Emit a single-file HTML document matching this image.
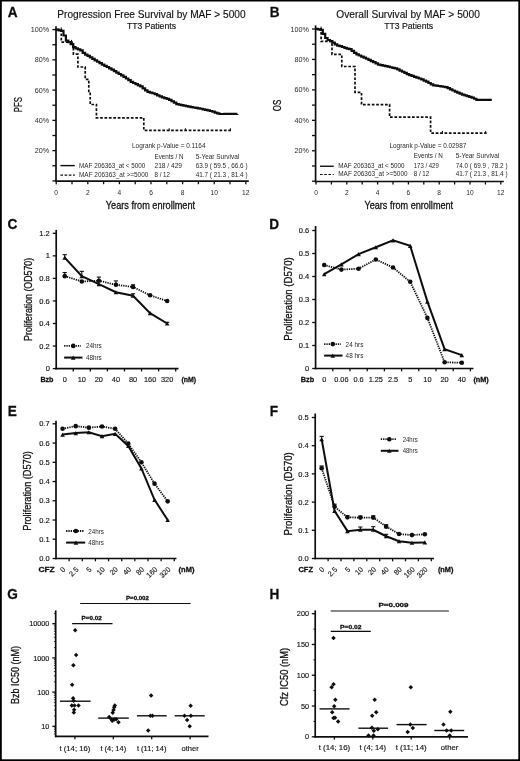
<!DOCTYPE html>
<html><head><meta charset="utf-8"><title>Figure</title>
<style>
html,body{margin:0;padding:0;background:#fff;}
body{width:520px;height:761px;overflow:hidden;}
svg{display:block;}
text{font-family:"Liberation Sans", sans-serif;fill:#111;stroke:#111;stroke-width:0.28px;}
text.s{stroke:none;fill:#2a2a2a;}
text.m{stroke-width:0.14px;}
</style></head>
<body>
<svg width="520" height="761" viewBox="0 0 520 761">
<defs><filter id="b" x="-0.05" y="-0.05" width="1.1" height="1.1"><feGaussianBlur stdDeviation="0.35"/></filter></defs>
<rect x="0" y="0" width="520" height="761" fill="#fff"/>
<g filter="url(#b)">
<text x="7.70" y="17.00" font-size="14.3" font-weight="bold" textLength="9.82" lengthAdjust="spacingAndGlyphs" style="stroke-width:0.3px">A</text>
<text x="269.70" y="17.00" font-size="14.3" font-weight="bold" textLength="9.82" lengthAdjust="spacingAndGlyphs" style="stroke-width:0.3px">B</text>
<text x="7.50" y="228.80" font-size="14.3" font-weight="bold" textLength="9.82" lengthAdjust="spacingAndGlyphs" style="stroke-width:0.3px">C</text>
<text x="269.30" y="228.70" font-size="14.3" font-weight="bold" textLength="9.82" lengthAdjust="spacingAndGlyphs" style="stroke-width:0.3px">D</text>
<text x="7.70" y="415.60" font-size="14.3" font-weight="bold" textLength="9.07" lengthAdjust="spacingAndGlyphs" style="stroke-width:0.3px">E</text>
<text x="269.70" y="415.60" font-size="14.3" font-weight="bold" textLength="8.31" lengthAdjust="spacingAndGlyphs" style="stroke-width:0.3px">F</text>
<text x="7.30" y="598.80" font-size="14.3" font-weight="bold" textLength="10.58" lengthAdjust="spacingAndGlyphs" style="stroke-width:0.3px">G</text>
<text x="269.50" y="598.80" font-size="14.3" font-weight="bold" textLength="9.82" lengthAdjust="spacingAndGlyphs" style="stroke-width:0.3px">H</text>
<text x="57.30" y="17.70" font-size="10.2" textLength="188.30" lengthAdjust="spacingAndGlyphs" class="m">Progression Free Survival by MAF &gt; 5000</text>
<text x="126.90" y="28.70" font-size="8.8" textLength="49.10" lengthAdjust="spacingAndGlyphs" class="m">TT3 Patients</text>
<line x1="56.00" y1="26.30" x2="56.00" y2="182.00" stroke="#111" stroke-width="1.7" stroke-linecap="butt"/>
<line x1="55.20" y1="181.20" x2="248.80" y2="181.20" stroke="#111" stroke-width="1.7" stroke-linecap="butt"/>
<line x1="52.40" y1="29.60" x2="56.00" y2="29.60" stroke="#111" stroke-width="1.3" stroke-linecap="butt"/>
<text x="49.20" y="32.20" font-size="7.5" text-anchor="end" textLength="18.41" lengthAdjust="spacingAndGlyphs" class="s">100%</text>
<line x1="52.40" y1="44.73" x2="56.00" y2="44.73" stroke="#111" stroke-width="1.3" stroke-linecap="butt"/>
<line x1="52.40" y1="59.86" x2="56.00" y2="59.86" stroke="#111" stroke-width="1.3" stroke-linecap="butt"/>
<text x="49.20" y="62.46" font-size="7.5" text-anchor="end" textLength="14.41" lengthAdjust="spacingAndGlyphs" class="s">80%</text>
<line x1="52.40" y1="74.99" x2="56.00" y2="74.99" stroke="#111" stroke-width="1.3" stroke-linecap="butt"/>
<line x1="52.40" y1="90.12" x2="56.00" y2="90.12" stroke="#111" stroke-width="1.3" stroke-linecap="butt"/>
<text x="49.20" y="92.72" font-size="7.5" text-anchor="end" textLength="14.41" lengthAdjust="spacingAndGlyphs" class="s">60%</text>
<line x1="52.40" y1="105.25" x2="56.00" y2="105.25" stroke="#111" stroke-width="1.3" stroke-linecap="butt"/>
<line x1="52.40" y1="120.38" x2="56.00" y2="120.38" stroke="#111" stroke-width="1.3" stroke-linecap="butt"/>
<text x="49.20" y="122.98" font-size="7.5" text-anchor="end" textLength="14.41" lengthAdjust="spacingAndGlyphs" class="s">40%</text>
<line x1="52.40" y1="135.51" x2="56.00" y2="135.51" stroke="#111" stroke-width="1.3" stroke-linecap="butt"/>
<line x1="52.40" y1="150.64" x2="56.00" y2="150.64" stroke="#111" stroke-width="1.3" stroke-linecap="butt"/>
<text x="49.20" y="153.24" font-size="7.5" text-anchor="end" textLength="14.41" lengthAdjust="spacingAndGlyphs" class="s">20%</text>
<line x1="52.40" y1="165.77" x2="56.00" y2="165.77" stroke="#111" stroke-width="1.3" stroke-linecap="butt"/>
<line x1="52.40" y1="180.90" x2="56.00" y2="180.90" stroke="#111" stroke-width="1.3" stroke-linecap="butt"/>
<line x1="56.20" y1="181.20" x2="56.20" y2="184.20" stroke="#111" stroke-width="1.3" stroke-linecap="butt"/>
<text x="56.20" y="194.60" font-size="7.7" text-anchor="middle" textLength="3.68" lengthAdjust="spacingAndGlyphs" class="s">0</text>
<line x1="72.00" y1="181.20" x2="72.00" y2="184.20" stroke="#111" stroke-width="1.3" stroke-linecap="butt"/>
<line x1="87.80" y1="181.20" x2="87.80" y2="184.20" stroke="#111" stroke-width="1.3" stroke-linecap="butt"/>
<text x="87.80" y="194.60" font-size="7.7" text-anchor="middle" textLength="3.68" lengthAdjust="spacingAndGlyphs" class="s">2</text>
<line x1="103.60" y1="181.20" x2="103.60" y2="184.20" stroke="#111" stroke-width="1.3" stroke-linecap="butt"/>
<line x1="119.40" y1="181.20" x2="119.40" y2="184.20" stroke="#111" stroke-width="1.3" stroke-linecap="butt"/>
<text x="119.40" y="194.60" font-size="7.7" text-anchor="middle" textLength="3.68" lengthAdjust="spacingAndGlyphs" class="s">4</text>
<line x1="135.20" y1="181.20" x2="135.20" y2="184.20" stroke="#111" stroke-width="1.3" stroke-linecap="butt"/>
<line x1="151.00" y1="181.20" x2="151.00" y2="184.20" stroke="#111" stroke-width="1.3" stroke-linecap="butt"/>
<text x="151.00" y="194.60" font-size="7.7" text-anchor="middle" textLength="3.68" lengthAdjust="spacingAndGlyphs" class="s">6</text>
<line x1="166.80" y1="181.20" x2="166.80" y2="184.20" stroke="#111" stroke-width="1.3" stroke-linecap="butt"/>
<line x1="182.60" y1="181.20" x2="182.60" y2="184.20" stroke="#111" stroke-width="1.3" stroke-linecap="butt"/>
<text x="182.60" y="194.60" font-size="7.7" text-anchor="middle" textLength="3.68" lengthAdjust="spacingAndGlyphs" class="s">8</text>
<line x1="198.40" y1="181.20" x2="198.40" y2="184.20" stroke="#111" stroke-width="1.3" stroke-linecap="butt"/>
<line x1="214.20" y1="181.20" x2="214.20" y2="184.20" stroke="#111" stroke-width="1.3" stroke-linecap="butt"/>
<text x="214.20" y="194.60" font-size="7.7" text-anchor="middle" textLength="7.37" lengthAdjust="spacingAndGlyphs" class="s">10</text>
<line x1="230.00" y1="181.20" x2="230.00" y2="184.20" stroke="#111" stroke-width="1.3" stroke-linecap="butt"/>
<line x1="245.80" y1="181.20" x2="245.80" y2="184.20" stroke="#111" stroke-width="1.3" stroke-linecap="butt"/>
<text x="245.80" y="194.60" font-size="7.7" text-anchor="middle" textLength="7.37" lengthAdjust="spacingAndGlyphs" class="s">12</text>
<text x="105.80" y="209.20" font-size="10.4" textLength="89.30" lengthAdjust="spacingAndGlyphs">Years from enrollment</text>
<text x="21.80" y="104.70" font-size="10.6" text-anchor="middle" textLength="15.20" lengthAdjust="spacingAndGlyphs" transform="rotate(-90 21.80 104.70)">PFS</text>
<line x1="60.40" y1="165.60" x2="74.80" y2="165.60" stroke="#111" stroke-width="1.4" stroke-linecap="butt"/>
<line x1="60.40" y1="175.20" x2="74.80" y2="175.20" stroke="#111" stroke-width="1.2" stroke-dasharray="2.6,1.6" stroke-linecap="butt"/>
<text x="79.00" y="167.80" font-size="6.4" textLength="66.40" lengthAdjust="spacingAndGlyphs" class="s">MAF 206363_at &lt; 5000</text>
<text x="79.00" y="177.30" font-size="6.4" textLength="69.30" lengthAdjust="spacingAndGlyphs" class="s">MAF 206363_at &gt;=5000</text>
<text x="132.00" y="147.80" font-size="6.4" textLength="73.50" lengthAdjust="spacingAndGlyphs" class="s">Logrank p-Value = 0.1164</text>
<text x="154.50" y="158.60" font-size="6.4" textLength="29.00" lengthAdjust="spacingAndGlyphs" class="s">Events / N</text>
<text x="195.75" y="158.60" font-size="6.4" textLength="43.50" lengthAdjust="spacingAndGlyphs" class="s">5-Year Survival</text>
<text x="154.50" y="168.00" font-size="6.4" textLength="27.50" lengthAdjust="spacingAndGlyphs" class="s">218 / 429</text>
<text x="195.75" y="168.00" font-size="6.4" textLength="51.75" lengthAdjust="spacingAndGlyphs" class="s">63.9 ( 59.5 , 66.6 )</text>
<text x="154.50" y="177.30" font-size="6.4" textLength="15.50" lengthAdjust="spacingAndGlyphs" class="s">8 / 12</text>
<text x="195.75" y="177.30" font-size="6.4" textLength="51.75" lengthAdjust="spacingAndGlyphs" class="s">41.7 ( 21.3 , 81.4 )</text>
<polyline points="56.30,29.60 58.70,29.60 58.70,30.29 61.10,30.29 61.10,30.97 63.50,30.97 63.50,35.50 65.90,35.50 65.90,40.58 68.30,40.58 68.30,42.10 70.70,42.10 70.70,44.04 73.10,44.04 73.10,47.03 75.50,47.03 75.50,48.31 77.90,48.31 77.90,49.36 80.30,49.36 80.30,50.41 82.70,50.41 82.70,52.84 85.10,52.84 85.10,54.58 87.50,54.58 87.50,55.91 89.90,55.91 89.90,57.39 92.30,57.39 92.30,58.86 94.70,58.86 94.70,60.32 97.10,60.32 97.10,61.75 99.50,61.75 99.50,63.18 101.90,63.18 101.90,64.56 104.30,64.56 104.30,65.79 106.70,65.79 106.70,67.02 109.10,67.02 109.10,68.28 111.50,68.28 111.50,69.71 113.90,69.71 113.90,71.15 116.30,71.15 116.30,72.58 118.70,72.58 118.70,74.01 121.10,74.01 121.10,75.45 123.50,75.45 123.50,76.88 125.90,76.88 125.90,78.48 128.30,78.48 128.30,80.13 130.70,80.13 130.70,81.79 133.10,81.79 133.10,83.01 135.50,83.01 135.50,84.15 137.90,84.15 137.90,85.30 140.30,85.30 140.30,86.45 142.70,86.45 142.70,88.44 145.10,88.44 145.10,90.47 147.50,90.47 147.50,91.80 149.90,91.80 149.90,92.53 152.30,92.53 152.30,93.26 154.70,93.26 154.70,94.21 157.10,94.21 157.10,95.28 159.50,95.28 159.50,96.35 161.90,96.35 161.90,97.42 164.30,97.42 164.30,98.15 166.70,98.15 166.70,98.81 169.10,98.81 169.10,99.80 171.50,99.80 171.50,101.26 173.90,101.26 173.90,102.71 176.30,102.71 176.30,104.12 178.70,104.12 178.70,104.64 181.10,104.64 181.10,105.17 183.50,105.17 183.50,105.69 185.90,105.69 185.90,106.21 188.30,106.21 188.30,106.70 190.70,106.70 190.70,107.10 193.10,107.10 193.10,107.49 195.50,107.49 195.50,107.89 197.90,107.89 197.90,108.29 200.30,108.29 200.30,108.76 202.70,108.76 202.70,109.31 205.10,109.31 205.10,109.87 207.50,109.87 207.50,110.43 209.90,110.43 209.90,110.99 212.30,110.99 212.30,111.71 214.70,111.71 214.70,112.53 217.10,112.53 217.10,113.35 219.50,113.35 219.50,114.00 221.90,114.00 221.90,113.98 224.30,113.98 224.30,113.97 226.70,113.97 226.70,113.96 229.10,113.96 229.10,113.94 231.50,113.94 231.50,113.93 233.90,113.93 233.90,113.92 236.30,113.92 236.30,113.91 237.30,113.91 237.30,113.90" fill="none" stroke="#111" stroke-width="2.2" stroke-linejoin="miter"/>
<polyline points="56.30,29.60 61.30,29.60 61.30,42.10 73.40,42.10 73.40,54.20 77.90,54.20 77.90,67.00 85.20,67.00 85.20,79.30 88.80,79.30 88.80,92.30 90.20,92.30 90.20,104.50 96.40,104.50 96.40,117.80 143.80,117.80 143.80,130.40 231.50,130.40" fill="none" stroke="#111" stroke-width="1.7" stroke-dasharray="2.7,1.7" stroke-linejoin="miter"/>
<line x1="61.30" y1="27.40" x2="61.30" y2="30.10" stroke="#111" stroke-width="1.0" stroke-linecap="butt"/>
<line x1="71.50" y1="39.90" x2="71.50" y2="42.60" stroke="#111" stroke-width="1.0" stroke-linecap="butt"/>
<line x1="169.20" y1="128.20" x2="169.20" y2="130.90" stroke="#111" stroke-width="1.0" stroke-linecap="butt"/>
<line x1="185.40" y1="128.20" x2="185.40" y2="130.90" stroke="#111" stroke-width="1.0" stroke-linecap="butt"/>
<line x1="230.40" y1="128.20" x2="230.40" y2="130.90" stroke="#111" stroke-width="1.0" stroke-linecap="butt"/>
<text x="336.30" y="17.70" font-size="10.2" textLength="143.50" lengthAdjust="spacingAndGlyphs" class="m">Overall Survival by MAF &gt; 5000</text>
<text x="384.20" y="28.70" font-size="8.8" textLength="49.00" lengthAdjust="spacingAndGlyphs" class="m">TT3 Patients</text>
<line x1="315.60" y1="25.40" x2="315.60" y2="182.30" stroke="#111" stroke-width="1.7" stroke-linecap="butt"/>
<line x1="314.80" y1="181.50" x2="503.80" y2="181.50" stroke="#111" stroke-width="1.7" stroke-linecap="butt"/>
<line x1="312.00" y1="29.00" x2="315.60" y2="29.00" stroke="#111" stroke-width="1.3" stroke-linecap="butt"/>
<text x="308.80" y="31.60" font-size="7.5" text-anchor="end" textLength="18.41" lengthAdjust="spacingAndGlyphs" class="s">100%</text>
<line x1="312.00" y1="44.22" x2="315.60" y2="44.22" stroke="#111" stroke-width="1.3" stroke-linecap="butt"/>
<line x1="312.00" y1="59.44" x2="315.60" y2="59.44" stroke="#111" stroke-width="1.3" stroke-linecap="butt"/>
<text x="308.80" y="62.04" font-size="7.5" text-anchor="end" textLength="14.41" lengthAdjust="spacingAndGlyphs" class="s">80%</text>
<line x1="312.00" y1="74.66" x2="315.60" y2="74.66" stroke="#111" stroke-width="1.3" stroke-linecap="butt"/>
<line x1="312.00" y1="89.88" x2="315.60" y2="89.88" stroke="#111" stroke-width="1.3" stroke-linecap="butt"/>
<text x="308.80" y="92.48" font-size="7.5" text-anchor="end" textLength="14.41" lengthAdjust="spacingAndGlyphs" class="s">60%</text>
<line x1="312.00" y1="105.10" x2="315.60" y2="105.10" stroke="#111" stroke-width="1.3" stroke-linecap="butt"/>
<line x1="312.00" y1="120.32" x2="315.60" y2="120.32" stroke="#111" stroke-width="1.3" stroke-linecap="butt"/>
<text x="308.80" y="122.92" font-size="7.5" text-anchor="end" textLength="14.41" lengthAdjust="spacingAndGlyphs" class="s">40%</text>
<line x1="312.00" y1="135.54" x2="315.60" y2="135.54" stroke="#111" stroke-width="1.3" stroke-linecap="butt"/>
<line x1="312.00" y1="150.76" x2="315.60" y2="150.76" stroke="#111" stroke-width="1.3" stroke-linecap="butt"/>
<text x="308.80" y="153.36" font-size="7.5" text-anchor="end" textLength="14.41" lengthAdjust="spacingAndGlyphs" class="s">20%</text>
<line x1="312.00" y1="165.98" x2="315.60" y2="165.98" stroke="#111" stroke-width="1.3" stroke-linecap="butt"/>
<line x1="312.00" y1="181.20" x2="315.60" y2="181.20" stroke="#111" stroke-width="1.3" stroke-linecap="butt"/>
<line x1="316.00" y1="181.50" x2="316.00" y2="184.50" stroke="#111" stroke-width="1.3" stroke-linecap="butt"/>
<text x="316.00" y="194.60" font-size="7.7" text-anchor="middle" textLength="3.68" lengthAdjust="spacingAndGlyphs" class="s">0</text>
<line x1="331.40" y1="181.50" x2="331.40" y2="184.50" stroke="#111" stroke-width="1.3" stroke-linecap="butt"/>
<line x1="346.80" y1="181.50" x2="346.80" y2="184.50" stroke="#111" stroke-width="1.3" stroke-linecap="butt"/>
<text x="346.80" y="194.60" font-size="7.7" text-anchor="middle" textLength="3.68" lengthAdjust="spacingAndGlyphs" class="s">2</text>
<line x1="362.20" y1="181.50" x2="362.20" y2="184.50" stroke="#111" stroke-width="1.3" stroke-linecap="butt"/>
<line x1="377.60" y1="181.50" x2="377.60" y2="184.50" stroke="#111" stroke-width="1.3" stroke-linecap="butt"/>
<text x="377.60" y="194.60" font-size="7.7" text-anchor="middle" textLength="3.68" lengthAdjust="spacingAndGlyphs" class="s">4</text>
<line x1="393.00" y1="181.50" x2="393.00" y2="184.50" stroke="#111" stroke-width="1.3" stroke-linecap="butt"/>
<line x1="408.40" y1="181.50" x2="408.40" y2="184.50" stroke="#111" stroke-width="1.3" stroke-linecap="butt"/>
<text x="408.40" y="194.60" font-size="7.7" text-anchor="middle" textLength="3.68" lengthAdjust="spacingAndGlyphs" class="s">6</text>
<line x1="423.80" y1="181.50" x2="423.80" y2="184.50" stroke="#111" stroke-width="1.3" stroke-linecap="butt"/>
<line x1="439.20" y1="181.50" x2="439.20" y2="184.50" stroke="#111" stroke-width="1.3" stroke-linecap="butt"/>
<text x="439.20" y="194.60" font-size="7.7" text-anchor="middle" textLength="3.68" lengthAdjust="spacingAndGlyphs" class="s">8</text>
<line x1="454.60" y1="181.50" x2="454.60" y2="184.50" stroke="#111" stroke-width="1.3" stroke-linecap="butt"/>
<line x1="470.00" y1="181.50" x2="470.00" y2="184.50" stroke="#111" stroke-width="1.3" stroke-linecap="butt"/>
<text x="470.00" y="194.60" font-size="7.7" text-anchor="middle" textLength="7.37" lengthAdjust="spacingAndGlyphs" class="s">10</text>
<line x1="485.40" y1="181.50" x2="485.40" y2="184.50" stroke="#111" stroke-width="1.3" stroke-linecap="butt"/>
<line x1="500.80" y1="181.50" x2="500.80" y2="184.50" stroke="#111" stroke-width="1.3" stroke-linecap="butt"/>
<text x="500.80" y="194.60" font-size="7.7" text-anchor="middle" textLength="7.37" lengthAdjust="spacingAndGlyphs" class="s">12</text>
<text x="364.50" y="209.20" font-size="10.4" textLength="88.60" lengthAdjust="spacingAndGlyphs">Years from enrollment</text>
<text x="281.00" y="105.45" font-size="10.6" text-anchor="middle" textLength="11.50" lengthAdjust="spacingAndGlyphs" transform="rotate(-90 281.00 105.45)">OS</text>
<line x1="320.00" y1="166.25" x2="333.75" y2="166.25" stroke="#111" stroke-width="1.4" stroke-linecap="butt"/>
<line x1="320.00" y1="174.50" x2="333.75" y2="174.50" stroke="#111" stroke-width="1.2" stroke-dasharray="2.6,1.6" stroke-linecap="butt"/>
<text x="338.25" y="167.70" font-size="6.4" textLength="66.40" lengthAdjust="spacingAndGlyphs" class="s">MAF 206363_at &lt; 5000</text>
<text x="338.25" y="176.00" font-size="6.4" textLength="69.30" lengthAdjust="spacingAndGlyphs" class="s">MAF 206363_at &gt;=5000</text>
<text x="389.50" y="147.80" font-size="6.4" textLength="76.75" lengthAdjust="spacingAndGlyphs" class="s">Logrank p-Value = 0.02987</text>
<text x="413.75" y="157.80" font-size="6.4" textLength="29.00" lengthAdjust="spacingAndGlyphs" class="s">Events / N</text>
<text x="455.75" y="157.80" font-size="6.4" textLength="43.50" lengthAdjust="spacingAndGlyphs" class="s">5-Year Survival</text>
<text x="413.75" y="167.60" font-size="6.4" textLength="25.00" lengthAdjust="spacingAndGlyphs" class="s">173 / 429</text>
<text x="455.75" y="167.60" font-size="6.4" textLength="51.75" lengthAdjust="spacingAndGlyphs" class="s">74.0 ( 69.9 , 78.2 )</text>
<text x="413.75" y="176.00" font-size="6.4" textLength="15.50" lengthAdjust="spacingAndGlyphs" class="s">8 / 12</text>
<text x="455.75" y="176.00" font-size="6.4" textLength="51.75" lengthAdjust="spacingAndGlyphs" class="s">41.7 ( 21.3 , 81.4 )</text>
<polyline points="315.60,28.80 318.00,28.80 318.00,29.29 320.40,29.29 320.40,29.78 322.80,29.78 322.80,33.90 325.20,33.90 325.20,38.00 327.60,38.00 327.60,39.99 330.00,39.99 330.00,41.17 332.40,41.17 332.40,42.57 334.80,42.57 334.80,44.34 337.20,44.34 337.20,45.59 339.60,45.59 339.60,46.21 342.00,46.21 342.00,46.98 344.40,46.98 344.40,47.87 346.80,47.87 346.80,48.59 349.20,48.59 349.20,49.22 351.60,49.22 351.60,50.88 354.00,50.88 354.00,52.97 356.40,52.97 356.40,54.33 358.80,54.33 358.80,55.50 361.20,55.50 361.20,56.60 363.60,56.60 363.60,57.68 366.00,57.68 366.00,58.76 368.40,58.76 368.40,59.90 370.80,59.90 370.80,61.05 373.20,61.05 373.20,62.20 375.60,62.20 375.60,63.38 378.00,63.38 378.00,64.55 380.40,64.55 380.40,65.18 382.80,65.18 382.80,65.66 385.20,65.66 385.20,66.14 387.60,66.14 387.60,66.65 390.00,66.65 390.00,67.25 392.40,67.25 392.40,67.85 394.80,67.85 394.80,68.45 397.20,68.45 397.20,69.39 399.60,69.39 399.60,70.58 402.00,70.58 402.00,71.77 404.40,71.77 404.40,72.96 406.80,72.96 406.80,74.15 409.20,74.15 409.20,75.08 411.60,75.08 411.60,75.93 414.00,75.93 414.00,76.78 416.40,76.78 416.40,77.64 418.80,77.64 418.80,78.49 421.20,78.49 421.20,79.39 423.60,79.39 423.60,80.53 426.00,80.53 426.00,81.67 428.40,81.67 428.40,82.99 430.80,82.99 430.80,84.42 433.20,84.42 433.20,85.35 435.60,85.35 435.60,85.68 438.00,85.68 438.00,86.01 440.40,86.01 440.40,86.34 442.80,86.34 442.80,86.75 445.20,86.75 445.20,87.16 447.60,87.16 447.60,88.10 450.00,88.10 450.00,89.30 452.40,89.30 452.40,90.50 454.80,90.50 454.80,91.68 457.20,91.68 457.20,92.65 459.60,92.65 459.60,93.61 462.00,93.61 462.00,94.58 464.40,94.58 464.40,95.43 466.80,95.43 466.80,96.16 469.20,96.16 469.20,96.88 471.60,96.88 471.60,97.61 474.00,97.61 474.00,98.73 476.40,98.73 476.40,99.80 478.80,99.80 478.80,99.80 481.20,99.80 481.20,99.80 483.60,99.80 483.60,99.80 486.00,99.80 486.00,99.80 488.40,99.80 488.40,99.80 490.80,99.80 490.80,99.80 491.80,99.80 491.80,99.80" fill="none" stroke="#111" stroke-width="2.2" stroke-linejoin="miter"/>
<polyline points="315.60,28.80 321.10,28.80 321.10,41.40 332.00,41.40 332.00,54.40 341.80,54.40 341.80,66.50 355.00,66.50 355.00,92.30 361.50,92.30 361.50,104.60 389.60,104.60 389.60,117.20 430.60,117.20 430.60,133.10 486.60,133.10" fill="none" stroke="#111" stroke-width="1.7" stroke-dasharray="2.7,1.7" stroke-linejoin="miter"/>
<line x1="321.10" y1="26.60" x2="321.10" y2="29.30" stroke="#111" stroke-width="1.0" stroke-linecap="butt"/>
<line x1="442.50" y1="130.90" x2="442.50" y2="133.60" stroke="#111" stroke-width="1.0" stroke-linecap="butt"/>
<line x1="485.70" y1="130.90" x2="485.70" y2="133.60" stroke="#111" stroke-width="1.0" stroke-linecap="butt"/>
<line x1="56.20" y1="229.90" x2="56.20" y2="369.40" stroke="#111" stroke-width="1.7" stroke-linecap="butt"/>
<line x1="55.40" y1="368.60" x2="178.50" y2="368.60" stroke="#111" stroke-width="1.7" stroke-linecap="butt"/>
<line x1="52.80" y1="368.60" x2="56.20" y2="368.60" stroke="#111" stroke-width="1.3" stroke-linecap="butt"/>
<text x="49.80" y="371.20" font-size="7.5" text-anchor="end" textLength="4.17" lengthAdjust="spacingAndGlyphs" class="m">0</text>
<line x1="52.80" y1="346.05" x2="56.20" y2="346.05" stroke="#111" stroke-width="1.3" stroke-linecap="butt"/>
<text x="49.80" y="348.65" font-size="7.5" text-anchor="end" textLength="10.43" lengthAdjust="spacingAndGlyphs" class="m">0.2</text>
<line x1="52.80" y1="323.50" x2="56.20" y2="323.50" stroke="#111" stroke-width="1.3" stroke-linecap="butt"/>
<text x="49.80" y="326.10" font-size="7.5" text-anchor="end" textLength="10.43" lengthAdjust="spacingAndGlyphs" class="m">0.4</text>
<line x1="52.80" y1="300.95" x2="56.20" y2="300.95" stroke="#111" stroke-width="1.3" stroke-linecap="butt"/>
<text x="49.80" y="303.55" font-size="7.5" text-anchor="end" textLength="10.43" lengthAdjust="spacingAndGlyphs" class="m">0.6</text>
<line x1="52.80" y1="278.40" x2="56.20" y2="278.40" stroke="#111" stroke-width="1.3" stroke-linecap="butt"/>
<text x="49.80" y="281.00" font-size="7.5" text-anchor="end" textLength="10.43" lengthAdjust="spacingAndGlyphs" class="m">0.8</text>
<line x1="52.80" y1="255.85" x2="56.20" y2="255.85" stroke="#111" stroke-width="1.3" stroke-linecap="butt"/>
<text x="49.80" y="258.45" font-size="7.5" text-anchor="end" textLength="4.17" lengthAdjust="spacingAndGlyphs" class="m">1</text>
<line x1="52.80" y1="233.30" x2="56.20" y2="233.30" stroke="#111" stroke-width="1.3" stroke-linecap="butt"/>
<text x="49.80" y="235.90" font-size="7.5" text-anchor="end" textLength="10.43" lengthAdjust="spacingAndGlyphs" class="m">1.2</text>
<line x1="73.27" y1="368.60" x2="73.27" y2="371.40" stroke="#111" stroke-width="1.3" stroke-linecap="butt"/>
<line x1="90.34" y1="368.60" x2="90.34" y2="371.40" stroke="#111" stroke-width="1.3" stroke-linecap="butt"/>
<line x1="107.41" y1="368.60" x2="107.41" y2="371.40" stroke="#111" stroke-width="1.3" stroke-linecap="butt"/>
<line x1="124.48" y1="368.60" x2="124.48" y2="371.40" stroke="#111" stroke-width="1.3" stroke-linecap="butt"/>
<line x1="141.55" y1="368.60" x2="141.55" y2="371.40" stroke="#111" stroke-width="1.3" stroke-linecap="butt"/>
<line x1="158.62" y1="368.60" x2="158.62" y2="371.40" stroke="#111" stroke-width="1.3" stroke-linecap="butt"/>
<line x1="175.69" y1="368.60" x2="175.69" y2="371.40" stroke="#111" stroke-width="1.3" stroke-linecap="butt"/>
<text x="64.73" y="382.40" font-size="7.5" text-anchor="middle" textLength="4.09" lengthAdjust="spacingAndGlyphs" class="m">0</text>
<text x="81.81" y="382.40" font-size="7.5" text-anchor="middle" textLength="8.18" lengthAdjust="spacingAndGlyphs" class="m">10</text>
<text x="98.88" y="382.40" font-size="7.5" text-anchor="middle" textLength="8.18" lengthAdjust="spacingAndGlyphs" class="m">20</text>
<text x="115.95" y="382.40" font-size="7.5" text-anchor="middle" textLength="8.18" lengthAdjust="spacingAndGlyphs" class="m">40</text>
<text x="133.01" y="382.40" font-size="7.5" text-anchor="middle" textLength="8.18" lengthAdjust="spacingAndGlyphs" class="m">80</text>
<text x="150.09" y="382.40" font-size="7.5" text-anchor="middle" textLength="12.26" lengthAdjust="spacingAndGlyphs" class="m">160</text>
<text x="167.16" y="382.40" font-size="7.5" text-anchor="middle" textLength="12.26" lengthAdjust="spacingAndGlyphs" class="m">320</text>
<text x="40.40" y="382.40" font-size="7.4" font-weight="bold" textLength="13.10" lengthAdjust="spacingAndGlyphs">Bzb</text>
<text x="181.40" y="382.40" font-size="7.4" font-weight="bold" textLength="14.70" lengthAdjust="spacingAndGlyphs">(nM)</text>
<text x="31.80" y="299.40" font-size="10.4" text-anchor="middle" textLength="83.00" lengthAdjust="spacingAndGlyphs" transform="rotate(-90 31.80 299.40)">Proliferation (OD570)</text>
<line x1="64.73" y1="276.15" x2="64.73" y2="272.55" stroke="#111" stroke-width="1.1" stroke-linecap="butt"/>
<line x1="62.63" y1="272.55" x2="66.83" y2="272.55" stroke="#111" stroke-width="1.1" stroke-linecap="butt"/>
<line x1="98.88" y1="280.77" x2="98.88" y2="277.07" stroke="#111" stroke-width="1.1" stroke-linecap="butt"/>
<line x1="96.78" y1="277.07" x2="100.97" y2="277.07" stroke="#111" stroke-width="1.1" stroke-linecap="butt"/>
<line x1="115.95" y1="284.71" x2="115.95" y2="280.91" stroke="#111" stroke-width="1.1" stroke-linecap="butt"/>
<line x1="113.85" y1="280.91" x2="118.05" y2="280.91" stroke="#111" stroke-width="1.1" stroke-linecap="butt"/>
<line x1="133.01" y1="286.97" x2="133.01" y2="284.77" stroke="#111" stroke-width="1.1" stroke-linecap="butt"/>
<line x1="130.91" y1="284.77" x2="135.11" y2="284.77" stroke="#111" stroke-width="1.1" stroke-linecap="butt"/>
<line x1="64.73" y1="257.65" x2="64.73" y2="254.65" stroke="#111" stroke-width="1.1" stroke-linecap="butt"/>
<line x1="62.63" y1="254.65" x2="66.83" y2="254.65" stroke="#111" stroke-width="1.1" stroke-linecap="butt"/>
<line x1="81.81" y1="276.15" x2="81.81" y2="271.35" stroke="#111" stroke-width="1.1" stroke-linecap="butt"/>
<line x1="79.71" y1="271.35" x2="83.91" y2="271.35" stroke="#111" stroke-width="1.1" stroke-linecap="butt"/>
<line x1="133.01" y1="295.76" x2="133.01" y2="293.76" stroke="#111" stroke-width="1.1" stroke-linecap="butt"/>
<line x1="130.91" y1="293.76" x2="135.11" y2="293.76" stroke="#111" stroke-width="1.1" stroke-linecap="butt"/>
<line x1="167.16" y1="323.50" x2="167.16" y2="322.30" stroke="#111" stroke-width="1.1" stroke-linecap="butt"/>
<line x1="165.06" y1="322.30" x2="169.25" y2="322.30" stroke="#111" stroke-width="1.1" stroke-linecap="butt"/>
<polyline points="64.73,276.15 81.81,281.44 98.88,280.77 115.95,284.71 133.01,286.97 150.09,295.31 167.16,301.06" fill="none" stroke="#111" stroke-width="1.8" stroke-dasharray="1.3,1.0" stroke-linejoin="miter"/>
<polyline points="64.73,257.65 81.81,276.15 98.88,284.15 115.95,292.27 133.01,295.76 150.09,313.13 167.16,323.50" fill="none" stroke="#111" stroke-width="2.0" stroke-linejoin="miter"/>
<circle cx="64.73" cy="276.15" r="2.3" fill="#111"/>
<circle cx="81.81" cy="281.44" r="2.3" fill="#111"/>
<circle cx="98.88" cy="280.77" r="2.3" fill="#111"/>
<circle cx="115.95" cy="284.71" r="2.3" fill="#111"/>
<circle cx="133.01" cy="286.97" r="2.3" fill="#111"/>
<circle cx="150.09" cy="295.31" r="2.3" fill="#111"/>
<circle cx="167.16" cy="301.06" r="2.3" fill="#111"/>
<polygon points="62.44,259.72 67.03,259.72 64.73,255.58" fill="#111"/>
<polygon points="79.51,278.22 84.11,278.22 81.81,274.08" fill="#111"/>
<polygon points="96.58,286.22 101.17,286.22 98.88,282.08" fill="#111"/>
<polygon points="113.65,294.34 118.25,294.34 115.95,290.20" fill="#111"/>
<polygon points="130.71,297.83 135.31,297.83 133.01,293.69" fill="#111"/>
<polygon points="147.78,315.20 152.39,315.20 150.09,311.06" fill="#111"/>
<polygon points="164.85,325.57 169.46,325.57 167.16,321.43" fill="#111"/>
<line x1="64.10" y1="345.90" x2="80.90" y2="345.90" stroke="#111" stroke-width="1.8" stroke-dasharray="1.3,1.0" stroke-linecap="butt"/>
<circle cx="73.20" cy="345.90" r="2.3" fill="#111"/>
<line x1="64.10" y1="357.60" x2="82.50" y2="357.60" stroke="#111" stroke-width="2.0" stroke-linecap="butt"/>
<polygon points="70.90,359.67 75.50,359.67 73.20,355.53" fill="#111"/>
<text x="85.90" y="348.30" font-size="6.6" textLength="15.90" lengthAdjust="spacingAndGlyphs" class="s">24hrs</text>
<text x="85.90" y="360.00" font-size="6.6" textLength="15.90" lengthAdjust="spacingAndGlyphs" class="s">48hrs</text>
<line x1="315.60" y1="226.10" x2="315.60" y2="369.30" stroke="#111" stroke-width="1.7" stroke-linecap="butt"/>
<line x1="314.80" y1="368.50" x2="473.40" y2="368.50" stroke="#111" stroke-width="1.7" stroke-linecap="butt"/>
<line x1="312.20" y1="368.50" x2="315.60" y2="368.50" stroke="#111" stroke-width="1.3" stroke-linecap="butt"/>
<text x="309.20" y="371.10" font-size="7.5" text-anchor="end" textLength="4.17" lengthAdjust="spacingAndGlyphs" class="m">0</text>
<line x1="312.20" y1="345.50" x2="315.60" y2="345.50" stroke="#111" stroke-width="1.3" stroke-linecap="butt"/>
<text x="309.20" y="348.10" font-size="7.5" text-anchor="end" textLength="10.43" lengthAdjust="spacingAndGlyphs" class="m">0.1</text>
<line x1="312.20" y1="322.50" x2="315.60" y2="322.50" stroke="#111" stroke-width="1.3" stroke-linecap="butt"/>
<text x="309.20" y="325.10" font-size="7.5" text-anchor="end" textLength="10.43" lengthAdjust="spacingAndGlyphs" class="m">0.2</text>
<line x1="312.20" y1="299.50" x2="315.60" y2="299.50" stroke="#111" stroke-width="1.3" stroke-linecap="butt"/>
<text x="309.20" y="302.10" font-size="7.5" text-anchor="end" textLength="10.43" lengthAdjust="spacingAndGlyphs" class="m">0.3</text>
<line x1="312.20" y1="276.50" x2="315.60" y2="276.50" stroke="#111" stroke-width="1.3" stroke-linecap="butt"/>
<text x="309.20" y="279.10" font-size="7.5" text-anchor="end" textLength="10.43" lengthAdjust="spacingAndGlyphs" class="m">0.4</text>
<line x1="312.20" y1="253.50" x2="315.60" y2="253.50" stroke="#111" stroke-width="1.3" stroke-linecap="butt"/>
<text x="309.20" y="256.10" font-size="7.5" text-anchor="end" textLength="10.43" lengthAdjust="spacingAndGlyphs" class="m">0.5</text>
<line x1="312.20" y1="230.50" x2="315.60" y2="230.50" stroke="#111" stroke-width="1.3" stroke-linecap="butt"/>
<text x="309.20" y="233.10" font-size="7.5" text-anchor="end" textLength="10.43" lengthAdjust="spacingAndGlyphs" class="m">0.6</text>
<line x1="332.80" y1="368.50" x2="332.80" y2="371.30" stroke="#111" stroke-width="1.3" stroke-linecap="butt"/>
<line x1="350.00" y1="368.50" x2="350.00" y2="371.30" stroke="#111" stroke-width="1.3" stroke-linecap="butt"/>
<line x1="367.20" y1="368.50" x2="367.20" y2="371.30" stroke="#111" stroke-width="1.3" stroke-linecap="butt"/>
<line x1="384.40" y1="368.50" x2="384.40" y2="371.30" stroke="#111" stroke-width="1.3" stroke-linecap="butt"/>
<line x1="401.60" y1="368.50" x2="401.60" y2="371.30" stroke="#111" stroke-width="1.3" stroke-linecap="butt"/>
<line x1="418.80" y1="368.50" x2="418.80" y2="371.30" stroke="#111" stroke-width="1.3" stroke-linecap="butt"/>
<line x1="436.00" y1="368.50" x2="436.00" y2="371.30" stroke="#111" stroke-width="1.3" stroke-linecap="butt"/>
<line x1="453.20" y1="368.50" x2="453.20" y2="371.30" stroke="#111" stroke-width="1.3" stroke-linecap="butt"/>
<line x1="470.40" y1="368.50" x2="470.40" y2="371.30" stroke="#111" stroke-width="1.3" stroke-linecap="butt"/>
<text x="324.20" y="382.20" font-size="7.5" text-anchor="middle" textLength="4.09" lengthAdjust="spacingAndGlyphs" class="m">0</text>
<text x="341.40" y="382.20" font-size="7.5" text-anchor="middle" textLength="14.31" lengthAdjust="spacingAndGlyphs" class="m">0.06</text>
<text x="358.60" y="382.20" font-size="7.5" text-anchor="middle" textLength="10.22" lengthAdjust="spacingAndGlyphs" class="m">0.6</text>
<text x="375.80" y="382.20" font-size="7.5" text-anchor="middle" textLength="14.31" lengthAdjust="spacingAndGlyphs" class="m">1.25</text>
<text x="393.00" y="382.20" font-size="7.5" text-anchor="middle" textLength="10.22" lengthAdjust="spacingAndGlyphs" class="m">2.5</text>
<text x="410.20" y="382.20" font-size="7.5" text-anchor="middle" textLength="4.09" lengthAdjust="spacingAndGlyphs" class="m">5</text>
<text x="427.40" y="382.20" font-size="7.5" text-anchor="middle" textLength="8.18" lengthAdjust="spacingAndGlyphs" class="m">10</text>
<text x="444.60" y="382.20" font-size="7.5" text-anchor="middle" textLength="8.18" lengthAdjust="spacingAndGlyphs" class="m">20</text>
<text x="461.80" y="382.20" font-size="7.5" text-anchor="middle" textLength="8.18" lengthAdjust="spacingAndGlyphs" class="m">40</text>
<text x="300.80" y="382.20" font-size="7.4" font-weight="bold" textLength="13.40" lengthAdjust="spacingAndGlyphs">Bzb</text>
<text x="473.40" y="382.20" font-size="7.4" font-weight="bold" textLength="15.40" lengthAdjust="spacingAndGlyphs">(nM)</text>
<text x="291.60" y="298.95" font-size="10.4" text-anchor="middle" textLength="83.50" lengthAdjust="spacingAndGlyphs" transform="rotate(-90 291.60 298.95)">Proliferation (D570)</text>
<polyline points="324.20,265.00 341.40,269.60 358.60,268.68 375.80,259.48 393.00,267.53 410.20,281.79 427.40,317.90 444.60,362.29 461.80,362.75" fill="none" stroke="#111" stroke-width="1.8" stroke-dasharray="1.3,1.0" stroke-linejoin="miter"/>
<polyline points="324.20,274.20 341.40,264.31 358.60,254.19 375.80,247.29 393.00,240.39 410.20,245.91 427.40,301.57 444.60,349.18 461.80,355.16" fill="none" stroke="#111" stroke-width="2.0" stroke-linejoin="miter"/>
<circle cx="324.20" cy="265.00" r="2.3" fill="#111"/>
<circle cx="341.40" cy="269.60" r="2.3" fill="#111"/>
<circle cx="358.60" cy="268.68" r="2.3" fill="#111"/>
<circle cx="375.80" cy="259.48" r="2.3" fill="#111"/>
<circle cx="393.00" cy="267.53" r="2.3" fill="#111"/>
<circle cx="410.20" cy="281.79" r="2.3" fill="#111"/>
<circle cx="427.40" cy="317.90" r="2.3" fill="#111"/>
<circle cx="444.60" cy="362.29" r="2.3" fill="#111"/>
<circle cx="461.80" cy="362.75" r="2.3" fill="#111"/>
<polygon points="321.90,276.27 326.50,276.27 324.20,272.13" fill="#111"/>
<polygon points="339.10,266.38 343.70,266.38 341.40,262.24" fill="#111"/>
<polygon points="356.30,256.26 360.90,256.26 358.60,252.12" fill="#111"/>
<polygon points="373.50,249.36 378.10,249.36 375.80,245.22" fill="#111"/>
<polygon points="390.70,242.46 395.30,242.46 393.00,238.32" fill="#111"/>
<polygon points="407.90,247.98 412.50,247.98 410.20,243.84" fill="#111"/>
<polygon points="425.10,303.64 429.70,303.64 427.40,299.50" fill="#111"/>
<polygon points="442.30,351.25 446.90,351.25 444.60,347.11" fill="#111"/>
<polygon points="459.50,357.23 464.10,357.23 461.80,353.09" fill="#111"/>
<line x1="324.10" y1="344.10" x2="340.90" y2="344.10" stroke="#111" stroke-width="1.8" stroke-dasharray="1.3,1.0" stroke-linecap="butt"/>
<circle cx="332.80" cy="344.10" r="2.3" fill="#111"/>
<line x1="324.10" y1="355.60" x2="342.50" y2="355.60" stroke="#111" stroke-width="2.0" stroke-linecap="butt"/>
<polygon points="330.50,357.67 335.10,357.67 332.80,353.53" fill="#111"/>
<text x="345.60" y="346.50" font-size="6.6" textLength="17.80" lengthAdjust="spacingAndGlyphs" class="s">24 hrs</text>
<text x="345.60" y="358.30" font-size="6.6" textLength="17.80" lengthAdjust="spacingAndGlyphs" class="s">48 hrs</text>
<line x1="56.00" y1="420.80" x2="56.00" y2="559.30" stroke="#111" stroke-width="1.7" stroke-linecap="butt"/>
<line x1="55.20" y1="558.50" x2="176.40" y2="558.50" stroke="#111" stroke-width="1.7" stroke-linecap="butt"/>
<line x1="52.60" y1="558.50" x2="56.00" y2="558.50" stroke="#111" stroke-width="1.3" stroke-linecap="butt"/>
<text x="49.60" y="561.10" font-size="7.5" text-anchor="end" textLength="10.43" lengthAdjust="spacingAndGlyphs" class="m">0.0</text>
<line x1="52.60" y1="539.26" x2="56.00" y2="539.26" stroke="#111" stroke-width="1.3" stroke-linecap="butt"/>
<text x="49.60" y="541.86" font-size="7.5" text-anchor="end" textLength="10.43" lengthAdjust="spacingAndGlyphs" class="m">0.1</text>
<line x1="52.60" y1="520.02" x2="56.00" y2="520.02" stroke="#111" stroke-width="1.3" stroke-linecap="butt"/>
<text x="49.60" y="522.62" font-size="7.5" text-anchor="end" textLength="10.43" lengthAdjust="spacingAndGlyphs" class="m">0.2</text>
<line x1="52.60" y1="500.78" x2="56.00" y2="500.78" stroke="#111" stroke-width="1.3" stroke-linecap="butt"/>
<text x="49.60" y="503.38" font-size="7.5" text-anchor="end" textLength="10.43" lengthAdjust="spacingAndGlyphs" class="m">0.3</text>
<line x1="52.60" y1="481.54" x2="56.00" y2="481.54" stroke="#111" stroke-width="1.3" stroke-linecap="butt"/>
<text x="49.60" y="484.14" font-size="7.5" text-anchor="end" textLength="10.43" lengthAdjust="spacingAndGlyphs" class="m">0.4</text>
<line x1="52.60" y1="462.30" x2="56.00" y2="462.30" stroke="#111" stroke-width="1.3" stroke-linecap="butt"/>
<text x="49.60" y="464.90" font-size="7.5" text-anchor="end" textLength="10.43" lengthAdjust="spacingAndGlyphs" class="m">0.5</text>
<line x1="52.60" y1="443.06" x2="56.00" y2="443.06" stroke="#111" stroke-width="1.3" stroke-linecap="butt"/>
<text x="49.60" y="445.66" font-size="7.5" text-anchor="end" textLength="10.43" lengthAdjust="spacingAndGlyphs" class="m">0.6</text>
<line x1="52.60" y1="423.82" x2="56.00" y2="423.82" stroke="#111" stroke-width="1.3" stroke-linecap="butt"/>
<text x="49.60" y="426.42" font-size="7.5" text-anchor="end" textLength="10.43" lengthAdjust="spacingAndGlyphs" class="m">0.7</text>
<line x1="69.14" y1="558.50" x2="69.14" y2="561.30" stroke="#111" stroke-width="1.3" stroke-linecap="butt"/>
<line x1="82.28" y1="558.50" x2="82.28" y2="561.30" stroke="#111" stroke-width="1.3" stroke-linecap="butt"/>
<line x1="95.42" y1="558.50" x2="95.42" y2="561.30" stroke="#111" stroke-width="1.3" stroke-linecap="butt"/>
<line x1="108.56" y1="558.50" x2="108.56" y2="561.30" stroke="#111" stroke-width="1.3" stroke-linecap="butt"/>
<line x1="121.70" y1="558.50" x2="121.70" y2="561.30" stroke="#111" stroke-width="1.3" stroke-linecap="butt"/>
<line x1="134.84" y1="558.50" x2="134.84" y2="561.30" stroke="#111" stroke-width="1.3" stroke-linecap="butt"/>
<line x1="147.98" y1="558.50" x2="147.98" y2="561.30" stroke="#111" stroke-width="1.3" stroke-linecap="butt"/>
<line x1="161.12" y1="558.50" x2="161.12" y2="561.30" stroke="#111" stroke-width="1.3" stroke-linecap="butt"/>
<line x1="174.26" y1="558.50" x2="174.26" y2="561.30" stroke="#111" stroke-width="1.3" stroke-linecap="butt"/>
<text x="65.87" y="569.90" font-size="7.4" text-anchor="end" textLength="3.99" lengthAdjust="spacingAndGlyphs" transform="rotate(-45 65.87 569.90)" class="m">0</text>
<text x="79.01" y="569.90" font-size="7.4" text-anchor="end" textLength="9.98" lengthAdjust="spacingAndGlyphs" transform="rotate(-45 79.01 569.90)" class="m">2.5</text>
<text x="92.15" y="569.90" font-size="7.4" text-anchor="end" textLength="3.99" lengthAdjust="spacingAndGlyphs" transform="rotate(-45 92.15 569.90)" class="m">5</text>
<text x="105.29" y="569.90" font-size="7.4" text-anchor="end" textLength="7.98" lengthAdjust="spacingAndGlyphs" transform="rotate(-45 105.29 569.90)" class="m">10</text>
<text x="118.43" y="569.90" font-size="7.4" text-anchor="end" textLength="7.98" lengthAdjust="spacingAndGlyphs" transform="rotate(-45 118.43 569.90)" class="m">20</text>
<text x="131.57" y="569.90" font-size="7.4" text-anchor="end" textLength="7.98" lengthAdjust="spacingAndGlyphs" transform="rotate(-45 131.57 569.90)" class="m">40</text>
<text x="144.71" y="569.90" font-size="7.4" text-anchor="end" textLength="7.98" lengthAdjust="spacingAndGlyphs" transform="rotate(-45 144.71 569.90)" class="m">80</text>
<text x="157.85" y="569.90" font-size="7.4" text-anchor="end" textLength="11.98" lengthAdjust="spacingAndGlyphs" transform="rotate(-45 157.85 569.90)" class="m">160</text>
<text x="170.99" y="569.90" font-size="7.4" text-anchor="end" textLength="11.98" lengthAdjust="spacingAndGlyphs" transform="rotate(-45 170.99 569.90)" class="m">320</text>
<text x="38.40" y="572.20" font-size="7.4" font-weight="bold" textLength="16.30" lengthAdjust="spacingAndGlyphs">CFZ</text>
<text x="178.60" y="572.20" font-size="7.4" font-weight="bold" textLength="15.80" lengthAdjust="spacingAndGlyphs">(nM)</text>
<text x="31.50" y="490.95" font-size="10.4" text-anchor="middle" textLength="79.50" lengthAdjust="spacingAndGlyphs" transform="rotate(-90 31.50 490.95)">Proliferation (D570)</text>
<polyline points="62.57,428.82 75.71,426.13 88.85,427.67 101.99,426.51 115.13,428.82 128.27,443.64 141.41,462.30 154.55,483.66 167.69,501.36" fill="none" stroke="#111" stroke-width="1.8" stroke-dasharray="1.3,1.0" stroke-linejoin="miter"/>
<polyline points="62.57,434.59 75.71,433.06 88.85,432.29 101.99,436.13 115.13,433.82 128.27,445.95 141.41,468.46 154.55,499.82 167.69,520.02" fill="none" stroke="#111" stroke-width="2.0" stroke-linejoin="miter"/>
<circle cx="62.57" cy="428.82" r="2.3" fill="#111"/>
<circle cx="75.71" cy="426.13" r="2.3" fill="#111"/>
<circle cx="88.85" cy="427.67" r="2.3" fill="#111"/>
<circle cx="101.99" cy="426.51" r="2.3" fill="#111"/>
<circle cx="115.13" cy="428.82" r="2.3" fill="#111"/>
<circle cx="128.27" cy="443.64" r="2.3" fill="#111"/>
<circle cx="141.41" cy="462.30" r="2.3" fill="#111"/>
<circle cx="154.55" cy="483.66" r="2.3" fill="#111"/>
<circle cx="167.69" cy="501.36" r="2.3" fill="#111"/>
<polygon points="60.27,436.66 64.87,436.66 62.57,432.52" fill="#111"/>
<polygon points="73.41,435.13 78.01,435.13 75.71,430.99" fill="#111"/>
<polygon points="86.55,434.36 91.15,434.36 88.85,430.22" fill="#111"/>
<polygon points="99.69,438.20 104.29,438.20 101.99,434.06" fill="#111"/>
<polygon points="112.83,435.89 117.43,435.89 115.13,431.75" fill="#111"/>
<polygon points="125.97,448.02 130.57,448.02 128.27,443.88" fill="#111"/>
<polygon points="139.11,470.53 143.71,470.53 141.41,466.39" fill="#111"/>
<polygon points="152.25,501.89 156.85,501.89 154.55,497.75" fill="#111"/>
<polygon points="165.39,522.09 169.99,522.09 167.69,517.95" fill="#111"/>
<line x1="66.10" y1="531.00" x2="83.60" y2="531.00" stroke="#111" stroke-width="1.8" stroke-dasharray="1.3,1.0" stroke-linecap="butt"/>
<circle cx="75.90" cy="531.00" r="2.3" fill="#111"/>
<line x1="66.10" y1="542.60" x2="85.20" y2="542.60" stroke="#111" stroke-width="2.0" stroke-linecap="butt"/>
<polygon points="73.60,544.67 78.20,544.67 75.90,540.53" fill="#111"/>
<text x="88.30" y="533.60" font-size="6.6" textLength="15.50" lengthAdjust="spacingAndGlyphs" class="s">24hrs</text>
<text x="88.30" y="545.00" font-size="6.6" textLength="15.50" lengthAdjust="spacingAndGlyphs" class="s">48hrs</text>
<line x1="315.20" y1="413.50" x2="315.20" y2="559.30" stroke="#111" stroke-width="1.7" stroke-linecap="butt"/>
<line x1="314.40" y1="558.50" x2="434.00" y2="558.50" stroke="#111" stroke-width="1.7" stroke-linecap="butt"/>
<line x1="311.80" y1="558.50" x2="315.20" y2="558.50" stroke="#111" stroke-width="1.3" stroke-linecap="butt"/>
<text x="308.80" y="561.10" font-size="7.5" text-anchor="end" textLength="10.43" lengthAdjust="spacingAndGlyphs" class="m">0.0</text>
<line x1="311.80" y1="530.30" x2="315.20" y2="530.30" stroke="#111" stroke-width="1.3" stroke-linecap="butt"/>
<text x="308.80" y="532.90" font-size="7.5" text-anchor="end" textLength="10.43" lengthAdjust="spacingAndGlyphs" class="m">0.1</text>
<line x1="311.80" y1="502.10" x2="315.20" y2="502.10" stroke="#111" stroke-width="1.3" stroke-linecap="butt"/>
<text x="308.80" y="504.70" font-size="7.5" text-anchor="end" textLength="10.43" lengthAdjust="spacingAndGlyphs" class="m">0.2</text>
<line x1="311.80" y1="473.90" x2="315.20" y2="473.90" stroke="#111" stroke-width="1.3" stroke-linecap="butt"/>
<text x="308.80" y="476.50" font-size="7.5" text-anchor="end" textLength="10.43" lengthAdjust="spacingAndGlyphs" class="m">0.3</text>
<line x1="311.80" y1="445.70" x2="315.20" y2="445.70" stroke="#111" stroke-width="1.3" stroke-linecap="butt"/>
<text x="308.80" y="448.30" font-size="7.5" text-anchor="end" textLength="10.43" lengthAdjust="spacingAndGlyphs" class="m">0.4</text>
<line x1="311.80" y1="417.50" x2="315.20" y2="417.50" stroke="#111" stroke-width="1.3" stroke-linecap="butt"/>
<text x="308.80" y="420.10" font-size="7.5" text-anchor="end" textLength="10.43" lengthAdjust="spacingAndGlyphs" class="m">0.5</text>
<line x1="328.10" y1="558.50" x2="328.10" y2="561.30" stroke="#111" stroke-width="1.3" stroke-linecap="butt"/>
<line x1="341.00" y1="558.50" x2="341.00" y2="561.30" stroke="#111" stroke-width="1.3" stroke-linecap="butt"/>
<line x1="353.90" y1="558.50" x2="353.90" y2="561.30" stroke="#111" stroke-width="1.3" stroke-linecap="butt"/>
<line x1="366.80" y1="558.50" x2="366.80" y2="561.30" stroke="#111" stroke-width="1.3" stroke-linecap="butt"/>
<line x1="379.70" y1="558.50" x2="379.70" y2="561.30" stroke="#111" stroke-width="1.3" stroke-linecap="butt"/>
<line x1="392.60" y1="558.50" x2="392.60" y2="561.30" stroke="#111" stroke-width="1.3" stroke-linecap="butt"/>
<line x1="405.50" y1="558.50" x2="405.50" y2="561.30" stroke="#111" stroke-width="1.3" stroke-linecap="butt"/>
<line x1="418.40" y1="558.50" x2="418.40" y2="561.30" stroke="#111" stroke-width="1.3" stroke-linecap="butt"/>
<line x1="431.30" y1="558.50" x2="431.30" y2="561.30" stroke="#111" stroke-width="1.3" stroke-linecap="butt"/>
<text x="324.95" y="569.90" font-size="7.4" text-anchor="end" textLength="3.99" lengthAdjust="spacingAndGlyphs" transform="rotate(-45 324.95 569.90)" class="m">0</text>
<text x="337.85" y="569.90" font-size="7.4" text-anchor="end" textLength="9.98" lengthAdjust="spacingAndGlyphs" transform="rotate(-45 337.85 569.90)" class="m">2.5</text>
<text x="350.75" y="569.90" font-size="7.4" text-anchor="end" textLength="3.99" lengthAdjust="spacingAndGlyphs" transform="rotate(-45 350.75 569.90)" class="m">5</text>
<text x="363.65" y="569.90" font-size="7.4" text-anchor="end" textLength="7.98" lengthAdjust="spacingAndGlyphs" transform="rotate(-45 363.65 569.90)" class="m">10</text>
<text x="376.55" y="569.90" font-size="7.4" text-anchor="end" textLength="7.98" lengthAdjust="spacingAndGlyphs" transform="rotate(-45 376.55 569.90)" class="m">20</text>
<text x="389.45" y="569.90" font-size="7.4" text-anchor="end" textLength="7.98" lengthAdjust="spacingAndGlyphs" transform="rotate(-45 389.45 569.90)" class="m">40</text>
<text x="402.35" y="569.90" font-size="7.4" text-anchor="end" textLength="7.98" lengthAdjust="spacingAndGlyphs" transform="rotate(-45 402.35 569.90)" class="m">80</text>
<text x="415.25" y="569.90" font-size="7.4" text-anchor="end" textLength="11.98" lengthAdjust="spacingAndGlyphs" transform="rotate(-45 415.25 569.90)" class="m">160</text>
<text x="428.15" y="569.90" font-size="7.4" text-anchor="end" textLength="11.98" lengthAdjust="spacingAndGlyphs" transform="rotate(-45 428.15 569.90)" class="m">320</text>
<text x="298.40" y="572.20" font-size="7.4" font-weight="bold" textLength="14.60" lengthAdjust="spacingAndGlyphs">CFZ</text>
<text x="437.90" y="572.20" font-size="7.4" font-weight="bold" textLength="15.60" lengthAdjust="spacingAndGlyphs">(nM)</text>
<text x="291.60" y="493.85" font-size="10.4" text-anchor="middle" textLength="83.30" lengthAdjust="spacingAndGlyphs" transform="rotate(-90 291.60 493.85)">Proliferation (D570)</text>
<line x1="321.65" y1="468.26" x2="321.65" y2="465.96" stroke="#111" stroke-width="1.1" stroke-linecap="butt"/>
<line x1="319.55" y1="465.96" x2="323.75" y2="465.96" stroke="#111" stroke-width="1.1" stroke-linecap="butt"/>
<line x1="334.55" y1="506.61" x2="334.55" y2="504.21" stroke="#111" stroke-width="1.1" stroke-linecap="butt"/>
<line x1="332.45" y1="504.21" x2="336.65" y2="504.21" stroke="#111" stroke-width="1.1" stroke-linecap="butt"/>
<line x1="347.45" y1="517.33" x2="347.45" y2="515.73" stroke="#111" stroke-width="1.1" stroke-linecap="butt"/>
<line x1="345.35" y1="515.73" x2="349.55" y2="515.73" stroke="#111" stroke-width="1.1" stroke-linecap="butt"/>
<line x1="360.35" y1="517.61" x2="360.35" y2="516.01" stroke="#111" stroke-width="1.1" stroke-linecap="butt"/>
<line x1="358.25" y1="516.01" x2="362.45" y2="516.01" stroke="#111" stroke-width="1.1" stroke-linecap="butt"/>
<line x1="373.25" y1="517.61" x2="373.25" y2="515.81" stroke="#111" stroke-width="1.1" stroke-linecap="butt"/>
<line x1="371.15" y1="515.81" x2="375.35" y2="515.81" stroke="#111" stroke-width="1.1" stroke-linecap="butt"/>
<line x1="386.15" y1="526.63" x2="386.15" y2="524.73" stroke="#111" stroke-width="1.1" stroke-linecap="butt"/>
<line x1="384.05" y1="524.73" x2="388.25" y2="524.73" stroke="#111" stroke-width="1.1" stroke-linecap="butt"/>
<line x1="321.65" y1="439.21" x2="321.65" y2="436.41" stroke="#111" stroke-width="1.1" stroke-linecap="butt"/>
<line x1="319.55" y1="436.41" x2="323.75" y2="436.41" stroke="#111" stroke-width="1.1" stroke-linecap="butt"/>
<line x1="360.35" y1="529.74" x2="360.35" y2="527.04" stroke="#111" stroke-width="1.1" stroke-linecap="butt"/>
<line x1="358.25" y1="527.04" x2="362.45" y2="527.04" stroke="#111" stroke-width="1.1" stroke-linecap="butt"/>
<line x1="373.25" y1="529.74" x2="373.25" y2="526.64" stroke="#111" stroke-width="1.1" stroke-linecap="butt"/>
<line x1="371.15" y1="526.64" x2="375.35" y2="526.64" stroke="#111" stroke-width="1.1" stroke-linecap="butt"/>
<line x1="386.15" y1="536.22" x2="386.15" y2="534.32" stroke="#111" stroke-width="1.1" stroke-linecap="butt"/>
<line x1="384.05" y1="534.32" x2="388.25" y2="534.32" stroke="#111" stroke-width="1.1" stroke-linecap="butt"/>
<polyline points="321.65,468.26 334.55,506.61 347.45,517.33 360.35,517.61 373.25,517.61 386.15,526.63 399.05,533.97 411.95,535.09 424.85,534.25" fill="none" stroke="#111" stroke-width="1.8" stroke-dasharray="1.3,1.0" stroke-linejoin="miter"/>
<polyline points="321.65,439.21 334.55,510.84 347.45,531.15 360.35,529.74 373.25,529.74 386.15,536.22 399.05,541.30 411.95,542.71 424.85,542.43" fill="none" stroke="#111" stroke-width="2.0" stroke-linejoin="miter"/>
<circle cx="321.65" cy="468.26" r="2.3" fill="#111"/>
<circle cx="334.55" cy="506.61" r="2.3" fill="#111"/>
<circle cx="347.45" cy="517.33" r="2.3" fill="#111"/>
<circle cx="360.35" cy="517.61" r="2.3" fill="#111"/>
<circle cx="373.25" cy="517.61" r="2.3" fill="#111"/>
<circle cx="386.15" cy="526.63" r="2.3" fill="#111"/>
<circle cx="399.05" cy="533.97" r="2.3" fill="#111"/>
<circle cx="411.95" cy="535.09" r="2.3" fill="#111"/>
<circle cx="424.85" cy="534.25" r="2.3" fill="#111"/>
<polygon points="319.35,441.28 323.95,441.28 321.65,437.14" fill="#111"/>
<polygon points="332.25,512.91 336.85,512.91 334.55,508.77" fill="#111"/>
<polygon points="345.15,533.22 349.75,533.22 347.45,529.08" fill="#111"/>
<polygon points="358.05,531.81 362.65,531.81 360.35,527.67" fill="#111"/>
<polygon points="370.95,531.81 375.55,531.81 373.25,527.67" fill="#111"/>
<polygon points="383.85,538.29 388.45,538.29 386.15,534.15" fill="#111"/>
<polygon points="396.75,543.37 401.35,543.37 399.05,539.23" fill="#111"/>
<polygon points="409.65,544.78 414.25,544.78 411.95,540.64" fill="#111"/>
<polygon points="422.55,544.50 427.15,544.50 424.85,540.36" fill="#111"/>
<line x1="380.80" y1="439.20" x2="396.90" y2="439.20" stroke="#111" stroke-width="1.8" stroke-dasharray="1.3,1.0" stroke-linecap="butt"/>
<circle cx="389.30" cy="439.20" r="2.3" fill="#111"/>
<line x1="380.80" y1="450.80" x2="398.50" y2="450.80" stroke="#111" stroke-width="2.0" stroke-linecap="butt"/>
<polygon points="387.00,452.87 391.60,452.87 389.30,448.73" fill="#111"/>
<text x="402.70" y="441.70" font-size="6.6" textLength="15.00" lengthAdjust="spacingAndGlyphs" class="s">24hrs</text>
<text x="402.70" y="453.20" font-size="6.6" textLength="15.00" lengthAdjust="spacingAndGlyphs" class="s">48hrs</text>
<line x1="55.70" y1="610.40" x2="55.70" y2="737.20" stroke="#111" stroke-width="1.7" stroke-linecap="butt"/>
<line x1="54.90" y1="736.40" x2="208.50" y2="736.40" stroke="#111" stroke-width="1.7" stroke-linecap="butt"/>
<line x1="74.90" y1="736.40" x2="74.90" y2="739.20" stroke="#111" stroke-width="1.3" stroke-linecap="butt"/>
<text x="74.90" y="750.80" font-size="7.6" text-anchor="middle" textLength="30.80" lengthAdjust="spacingAndGlyphs" class="m">t (14; 16)</text>
<line x1="113.30" y1="736.40" x2="113.30" y2="739.20" stroke="#111" stroke-width="1.3" stroke-linecap="butt"/>
<text x="113.30" y="750.80" font-size="7.6" text-anchor="middle" textLength="25.80" lengthAdjust="spacingAndGlyphs" class="m">t (4; 14)</text>
<line x1="151.70" y1="736.40" x2="151.70" y2="739.20" stroke="#111" stroke-width="1.3" stroke-linecap="butt"/>
<text x="151.70" y="750.80" font-size="7.6" text-anchor="middle" textLength="29.50" lengthAdjust="spacingAndGlyphs" class="m">t (11; 14)</text>
<line x1="190.10" y1="736.40" x2="190.10" y2="739.20" stroke="#111" stroke-width="1.3" stroke-linecap="butt"/>
<text x="190.10" y="750.80" font-size="7.6" text-anchor="middle" textLength="17.20" lengthAdjust="spacingAndGlyphs" class="m">other</text>
<line x1="52.30" y1="623.70" x2="55.70" y2="623.70" stroke="#111" stroke-width="1.3" stroke-linecap="butt"/>
<text x="49.40" y="626.30" font-size="7.5" text-anchor="end" textLength="20.23" lengthAdjust="spacingAndGlyphs" class="m">10000</text>
<line x1="52.30" y1="657.90" x2="55.70" y2="657.90" stroke="#111" stroke-width="1.3" stroke-linecap="butt"/>
<text x="49.40" y="660.50" font-size="7.5" text-anchor="end" textLength="16.18" lengthAdjust="spacingAndGlyphs" class="m">1000</text>
<line x1="52.30" y1="692.10" x2="55.70" y2="692.10" stroke="#111" stroke-width="1.3" stroke-linecap="butt"/>
<text x="49.40" y="694.70" font-size="7.5" text-anchor="end" textLength="12.14" lengthAdjust="spacingAndGlyphs" class="m">100</text>
<line x1="52.30" y1="726.30" x2="55.70" y2="726.30" stroke="#111" stroke-width="1.3" stroke-linecap="butt"/>
<text x="49.40" y="728.90" font-size="7.5" text-anchor="end" textLength="8.09" lengthAdjust="spacingAndGlyphs" class="m">10</text>
<line x1="53.90" y1="716.00" x2="55.70" y2="716.00" stroke="#111" stroke-width="0.8" stroke-linecap="butt"/>
<line x1="53.90" y1="709.98" x2="55.70" y2="709.98" stroke="#111" stroke-width="0.8" stroke-linecap="butt"/>
<line x1="53.90" y1="705.71" x2="55.70" y2="705.71" stroke="#111" stroke-width="0.8" stroke-linecap="butt"/>
<line x1="53.90" y1="702.40" x2="55.70" y2="702.40" stroke="#111" stroke-width="0.8" stroke-linecap="butt"/>
<line x1="53.90" y1="699.69" x2="55.70" y2="699.69" stroke="#111" stroke-width="0.8" stroke-linecap="butt"/>
<line x1="53.90" y1="697.40" x2="55.70" y2="697.40" stroke="#111" stroke-width="0.8" stroke-linecap="butt"/>
<line x1="53.90" y1="695.41" x2="55.70" y2="695.41" stroke="#111" stroke-width="0.8" stroke-linecap="butt"/>
<line x1="53.90" y1="693.66" x2="55.70" y2="693.66" stroke="#111" stroke-width="0.8" stroke-linecap="butt"/>
<line x1="53.90" y1="681.80" x2="55.70" y2="681.80" stroke="#111" stroke-width="0.8" stroke-linecap="butt"/>
<line x1="53.90" y1="675.78" x2="55.70" y2="675.78" stroke="#111" stroke-width="0.8" stroke-linecap="butt"/>
<line x1="53.90" y1="671.51" x2="55.70" y2="671.51" stroke="#111" stroke-width="0.8" stroke-linecap="butt"/>
<line x1="53.90" y1="668.20" x2="55.70" y2="668.20" stroke="#111" stroke-width="0.8" stroke-linecap="butt"/>
<line x1="53.90" y1="665.49" x2="55.70" y2="665.49" stroke="#111" stroke-width="0.8" stroke-linecap="butt"/>
<line x1="53.90" y1="663.20" x2="55.70" y2="663.20" stroke="#111" stroke-width="0.8" stroke-linecap="butt"/>
<line x1="53.90" y1="661.21" x2="55.70" y2="661.21" stroke="#111" stroke-width="0.8" stroke-linecap="butt"/>
<line x1="53.90" y1="659.46" x2="55.70" y2="659.46" stroke="#111" stroke-width="0.8" stroke-linecap="butt"/>
<line x1="53.90" y1="647.60" x2="55.70" y2="647.60" stroke="#111" stroke-width="0.8" stroke-linecap="butt"/>
<line x1="53.90" y1="641.58" x2="55.70" y2="641.58" stroke="#111" stroke-width="0.8" stroke-linecap="butt"/>
<line x1="53.90" y1="637.31" x2="55.70" y2="637.31" stroke="#111" stroke-width="0.8" stroke-linecap="butt"/>
<line x1="53.90" y1="634.00" x2="55.70" y2="634.00" stroke="#111" stroke-width="0.8" stroke-linecap="butt"/>
<line x1="53.90" y1="631.29" x2="55.70" y2="631.29" stroke="#111" stroke-width="0.8" stroke-linecap="butt"/>
<line x1="53.90" y1="629.00" x2="55.70" y2="629.00" stroke="#111" stroke-width="0.8" stroke-linecap="butt"/>
<line x1="53.90" y1="627.01" x2="55.70" y2="627.01" stroke="#111" stroke-width="0.8" stroke-linecap="butt"/>
<line x1="53.90" y1="625.26" x2="55.70" y2="625.26" stroke="#111" stroke-width="0.8" stroke-linecap="butt"/>
<line x1="53.90" y1="613.40" x2="55.70" y2="613.40" stroke="#111" stroke-width="0.8" stroke-linecap="butt"/>
<line x1="53.90" y1="733.89" x2="55.70" y2="733.89" stroke="#111" stroke-width="0.8" stroke-linecap="butt"/>
<line x1="53.90" y1="731.60" x2="55.70" y2="731.60" stroke="#111" stroke-width="0.8" stroke-linecap="butt"/>
<line x1="53.90" y1="729.61" x2="55.70" y2="729.61" stroke="#111" stroke-width="0.8" stroke-linecap="butt"/>
<line x1="53.90" y1="727.86" x2="55.70" y2="727.86" stroke="#111" stroke-width="0.8" stroke-linecap="butt"/>
<text x="19.20" y="675.00" font-size="10.2" text-anchor="middle" textLength="58.00" lengthAdjust="spacingAndGlyphs" transform="rotate(-90 19.20 675.00)">Bzb IC50 (nM)</text>
<line x1="72.10" y1="623.70" x2="112.50" y2="623.70" stroke="#111" stroke-width="1.2" stroke-linecap="butt"/>
<text x="81.60" y="619.60" font-size="6.0" font-weight="bold" textLength="20.20" lengthAdjust="spacingAndGlyphs">P=0.02</text>
<line x1="80.20" y1="603.50" x2="190.60" y2="603.50" stroke="#111" stroke-width="1.2" stroke-linecap="butt"/>
<text x="126.00" y="599.70" font-size="6.0" font-weight="bold" textLength="22.90" lengthAdjust="spacingAndGlyphs">P=0.002</text>
<line x1="60.00" y1="701.20" x2="90.60" y2="701.20" stroke="#111" stroke-width="1.4" stroke-linecap="butt"/>
<line x1="98.20" y1="718.10" x2="128.80" y2="718.10" stroke="#111" stroke-width="1.4" stroke-linecap="butt"/>
<line x1="136.90" y1="715.80" x2="166.70" y2="715.80" stroke="#111" stroke-width="1.4" stroke-linecap="butt"/>
<line x1="174.60" y1="715.80" x2="204.70" y2="715.80" stroke="#111" stroke-width="1.4" stroke-linecap="butt"/>
<polygon points="75.20,627.95 77.45,630.20 75.20,632.45 72.95,630.20" fill="#111"/>
<polygon points="76.10,652.75 78.35,655.00 76.10,657.25 73.85,655.00" fill="#111"/>
<polygon points="73.40,663.05 75.65,665.30 73.40,667.55 71.15,665.30" fill="#111"/>
<polygon points="72.10,682.55 74.35,684.80 72.10,687.05 69.85,684.80" fill="#111"/>
<polygon points="73.10,695.95 75.35,698.20 73.10,700.45 70.85,698.20" fill="#111"/>
<polygon points="73.60,698.55 75.85,700.80 73.60,703.05 71.35,700.80" fill="#111"/>
<polygon points="71.80,703.15 74.05,705.40 71.80,707.65 69.55,705.40" fill="#111"/>
<polygon points="74.50,703.15 76.75,705.40 74.50,707.65 72.25,705.40" fill="#111"/>
<polygon points="78.50,703.15 80.75,705.40 78.50,707.65 76.25,705.40" fill="#111"/>
<polygon points="74.10,707.55 76.35,709.80 74.10,712.05 71.85,709.80" fill="#111"/>
<polygon points="73.80,710.35 76.05,712.60 73.80,714.85 71.55,712.60" fill="#111"/>
<polygon points="114.80,703.15 117.05,705.40 114.80,707.65 112.55,705.40" fill="#111"/>
<polygon points="114.20,705.05 116.45,707.30 114.20,709.55 111.95,707.30" fill="#111"/>
<polygon points="113.50,707.75 115.75,710.00 113.50,712.25 111.25,710.00" fill="#111"/>
<polygon points="112.70,710.45 114.95,712.70 112.70,714.95 110.45,712.70" fill="#111"/>
<polygon points="109.20,714.65 111.45,716.90 109.20,719.15 106.95,716.90" fill="#111"/>
<polygon points="111.50,717.35 113.75,719.60 111.50,721.85 109.25,719.60" fill="#111"/>
<polygon points="114.20,717.35 116.45,719.60 114.20,721.85 111.95,719.60" fill="#111"/>
<polygon points="116.20,716.95 118.45,719.20 116.20,721.45 113.95,719.20" fill="#111"/>
<polygon points="118.50,720.05 120.75,722.30 118.50,724.55 116.25,722.30" fill="#111"/>
<polygon points="112.30,718.55 114.55,720.80 112.30,723.05 110.05,720.80" fill="#111"/>
<polygon points="151.10,693.15 153.35,695.40 151.10,697.65 148.85,695.40" fill="#111"/>
<polygon points="150.40,713.55 152.65,715.80 150.40,718.05 148.15,715.80" fill="#111"/>
<polygon points="152.50,713.55 154.75,715.80 152.50,718.05 150.25,715.80" fill="#111"/>
<polygon points="148.20,728.25 150.45,730.50 148.20,732.75 145.95,730.50" fill="#111"/>
<polygon points="190.60,703.55 192.85,705.80 190.60,708.05 188.35,705.80" fill="#111"/>
<polygon points="184.50,713.55 186.75,715.80 184.50,718.05 182.25,715.80" fill="#111"/>
<polygon points="190.90,713.55 193.15,715.80 190.90,718.05 188.65,715.80" fill="#111"/>
<polygon points="187.10,717.85 189.35,720.10 187.10,722.35 184.85,720.10" fill="#111"/>
<polygon points="189.70,723.95 191.95,726.20 189.70,728.45 187.45,726.20" fill="#111"/>
<line x1="315.20" y1="610.40" x2="315.20" y2="737.60" stroke="#111" stroke-width="1.7" stroke-linecap="butt"/>
<line x1="314.40" y1="736.80" x2="468.00" y2="736.80" stroke="#111" stroke-width="1.7" stroke-linecap="butt"/>
<line x1="334.40" y1="736.80" x2="334.40" y2="739.60" stroke="#111" stroke-width="1.3" stroke-linecap="butt"/>
<text x="334.40" y="750.20" font-size="7.6" text-anchor="middle" textLength="31.50" lengthAdjust="spacingAndGlyphs" class="m">t (14; 16)</text>
<line x1="372.80" y1="736.80" x2="372.80" y2="739.60" stroke="#111" stroke-width="1.3" stroke-linecap="butt"/>
<text x="372.80" y="750.20" font-size="7.6" text-anchor="middle" textLength="26.50" lengthAdjust="spacingAndGlyphs" class="m">t (4; 14)</text>
<line x1="411.20" y1="736.80" x2="411.20" y2="739.60" stroke="#111" stroke-width="1.3" stroke-linecap="butt"/>
<text x="411.20" y="750.20" font-size="7.6" text-anchor="middle" textLength="31.00" lengthAdjust="spacingAndGlyphs" class="m">t (11; 14)</text>
<line x1="449.60" y1="736.80" x2="449.60" y2="739.60" stroke="#111" stroke-width="1.3" stroke-linecap="butt"/>
<text x="449.60" y="750.20" font-size="7.6" text-anchor="middle" textLength="17.60" lengthAdjust="spacingAndGlyphs" class="m">other</text>
<line x1="311.80" y1="736.80" x2="315.20" y2="736.80" stroke="#111" stroke-width="1.3" stroke-linecap="butt"/>
<text x="309.00" y="739.40" font-size="7.5" text-anchor="end" textLength="4.05" lengthAdjust="spacingAndGlyphs" class="m">0</text>
<line x1="311.80" y1="706.02" x2="315.20" y2="706.02" stroke="#111" stroke-width="1.3" stroke-linecap="butt"/>
<text x="309.00" y="708.62" font-size="7.5" text-anchor="end" textLength="8.09" lengthAdjust="spacingAndGlyphs" class="m">50</text>
<line x1="311.80" y1="675.25" x2="315.20" y2="675.25" stroke="#111" stroke-width="1.3" stroke-linecap="butt"/>
<text x="309.00" y="677.85" font-size="7.5" text-anchor="end" textLength="12.14" lengthAdjust="spacingAndGlyphs" class="m">100</text>
<line x1="311.80" y1="644.47" x2="315.20" y2="644.47" stroke="#111" stroke-width="1.3" stroke-linecap="butt"/>
<text x="309.00" y="647.07" font-size="7.5" text-anchor="end" textLength="12.14" lengthAdjust="spacingAndGlyphs" class="m">150</text>
<line x1="311.80" y1="613.70" x2="315.20" y2="613.70" stroke="#111" stroke-width="1.3" stroke-linecap="butt"/>
<text x="309.00" y="616.30" font-size="7.5" text-anchor="end" textLength="12.14" lengthAdjust="spacingAndGlyphs" class="m">200</text>
<line x1="313.40" y1="721.41" x2="315.20" y2="721.41" stroke="#111" stroke-width="0.9" stroke-linecap="butt"/>
<line x1="313.40" y1="690.64" x2="315.20" y2="690.64" stroke="#111" stroke-width="0.9" stroke-linecap="butt"/>
<line x1="313.40" y1="659.86" x2="315.20" y2="659.86" stroke="#111" stroke-width="0.9" stroke-linecap="butt"/>
<line x1="313.40" y1="629.09" x2="315.20" y2="629.09" stroke="#111" stroke-width="0.9" stroke-linecap="butt"/>
<text x="288.40" y="676.90" font-size="10.2" text-anchor="middle" textLength="58.30" lengthAdjust="spacingAndGlyphs" transform="rotate(-90 288.40 676.90)">Cfz IC50 (nM)</text>
<line x1="330.80" y1="631.40" x2="370.80" y2="631.40" stroke="#111" stroke-width="1.2" stroke-linecap="butt"/>
<text x="340.00" y="628.50" font-size="6.0" font-weight="bold" textLength="21.50" lengthAdjust="spacingAndGlyphs">P=0.02</text>
<line x1="330.80" y1="611.00" x2="448.80" y2="611.00" stroke="#111" stroke-width="1.2" stroke-linecap="butt"/>
<text x="378.50" y="607.30" font-size="6.0" font-weight="bold" textLength="30.00" lengthAdjust="spacingAndGlyphs">P=0.009</text>
<line x1="319.60" y1="708.90" x2="349.60" y2="708.90" stroke="#111" stroke-width="1.4" stroke-linecap="butt"/>
<line x1="358.40" y1="728.20" x2="388.10" y2="728.20" stroke="#111" stroke-width="1.4" stroke-linecap="butt"/>
<line x1="396.50" y1="724.60" x2="426.60" y2="724.60" stroke="#111" stroke-width="1.4" stroke-linecap="butt"/>
<line x1="434.30" y1="730.50" x2="464.20" y2="730.50" stroke="#111" stroke-width="1.4" stroke-linecap="butt"/>
<polygon points="333.50,635.75 335.75,638.00 333.50,640.25 331.25,638.00" fill="#111"/>
<polygon points="333.50,681.95 335.75,684.20 333.50,686.45 331.25,684.20" fill="#111"/>
<polygon points="331.60,684.95 333.85,687.20 331.60,689.45 329.35,687.20" fill="#111"/>
<polygon points="335.30,697.45 337.55,699.70 335.30,701.95 333.05,699.70" fill="#111"/>
<polygon points="334.20,703.95 336.45,706.20 334.20,708.45 331.95,706.20" fill="#111"/>
<polygon points="332.20,710.05 334.45,712.30 332.20,714.55 329.95,712.30" fill="#111"/>
<polygon points="333.50,715.75 335.75,718.00 333.50,720.25 331.25,718.00" fill="#111"/>
<polygon points="335.00,715.45 337.25,717.70 335.00,719.95 332.75,717.70" fill="#111"/>
<polygon points="338.10,719.25 340.35,721.50 338.10,723.75 335.85,721.50" fill="#111"/>
<polygon points="374.70,697.45 376.95,699.70 374.70,701.95 372.45,699.70" fill="#111"/>
<polygon points="376.20,710.05 378.45,712.30 376.20,714.55 373.95,712.30" fill="#111"/>
<polygon points="372.20,713.55 374.45,715.80 372.20,718.05 369.95,715.80" fill="#111"/>
<polygon points="371.90,725.45 374.15,727.70 371.90,729.95 369.65,727.70" fill="#111"/>
<polygon points="373.80,728.55 376.05,730.80 373.80,733.05 371.55,730.80" fill="#111"/>
<polygon points="377.80,726.95 380.05,729.20 377.80,731.45 375.55,729.20" fill="#111"/>
<polygon points="368.50,733.15 370.75,735.40 368.50,737.65 366.25,735.40" fill="#111"/>
<polygon points="373.50,733.15 375.75,735.40 373.50,737.65 371.25,735.40" fill="#111"/>
<polygon points="410.80,684.95 413.05,687.20 410.80,689.45 408.55,687.20" fill="#111"/>
<polygon points="410.30,722.35 412.55,724.60 410.30,726.85 408.05,724.60" fill="#111"/>
<polygon points="412.80,725.75 415.05,728.00 412.80,730.25 410.55,728.00" fill="#111"/>
<polygon points="407.70,729.75 409.95,732.00 407.70,734.25 405.45,732.00" fill="#111"/>
<polygon points="450.30,709.55 452.55,711.80 450.30,714.05 448.05,711.80" fill="#111"/>
<polygon points="443.50,722.35 445.75,724.60 443.50,726.85 441.25,724.60" fill="#111"/>
<polygon points="446.60,728.25 448.85,730.50 446.60,732.75 444.35,730.50" fill="#111"/>
<polygon points="451.20,728.25 453.45,730.50 451.20,732.75 448.95,730.50" fill="#111"/>
<polygon points="449.70,733.15 451.95,735.40 449.70,737.65 447.45,735.40" fill="#111"/>
</g>
<rect x="0" y="0" width="1.8" height="761" fill="#000"/>
<rect x="0" y="0" width="520" height="1.5" fill="#000"/>
<rect x="518.3" y="0" width="1.7" height="761" fill="#000"/>
<rect x="0" y="759.3" width="520" height="1.7" fill="#000"/>
</svg>
</body></html>
